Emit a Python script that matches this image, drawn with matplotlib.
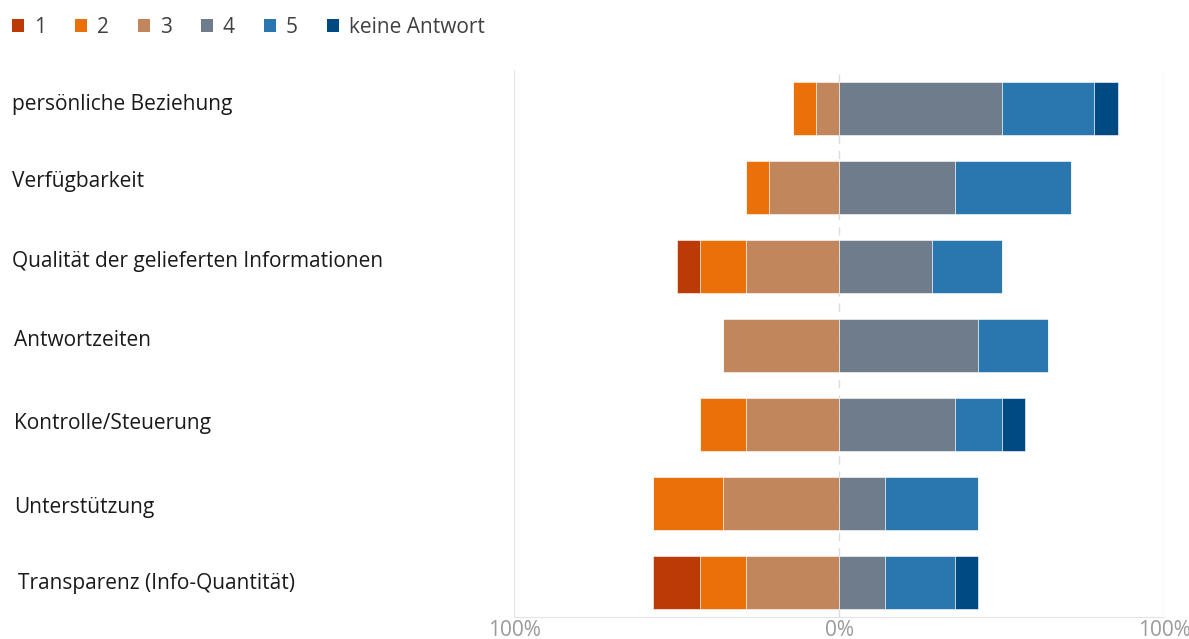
import numpy as np
import matplotlib.pyplot as plt
from matplotlib.patches import Patch
from matplotlib.ticker import FuncFormatter
from matplotlib.transforms import blended_transform_factory

plt.rcParams['font.family'] = ['Open Sans', 'DejaVu Sans']

# data (percent of answers)
categories = ['persönliche Beziehung', 'Verfügbarkeit',
              'Qualität der gelieferten Informationen', 'Antwortzeiten',
              'Kontrolle/Steuerung', 'Unterstützung',
              'Transparenz (Info-Quantität)']
p1 = [0, 0, 7.1, 0, 0, 0, 14.3]
p2 = [7.1, 7.1, 14.3, 0, 14.3, 21.4, 14.3]
p3 = [7.1, 21.4, 28.6, 35.7, 28.6, 35.7, 28.6]
p4 = [50.0, 35.7, 28.6, 42.9, 35.7, 14.3, 14.3]
p5 = [28.6, 35.7, 21.4, 21.4, 14.3, 28.6, 21.4]
ka = [7.1, 0, 0, 0, 7.1, 0, 7.1]
legend_labels = ['1', '2', '3', '4', '5', 'keine Antwort']
colors = ['#BB3A05', '#EC7009', '#C1865C', '#6E7C8C', '#2A77AF', '#004A84']

fig = plt.figure(figsize=(11.89, 6.39), dpi=100)
ax = fig.add_axes([0.4323, 0.0344, 0.5467, 0.8561])

y = np.arange(len(categories))
h = 0.67
kw = dict(height=h, edgecolor='white', linewidth=0.4)

# negative side: 3 next to zero, then 2, then 1
left3 = -np.array(p3)
left2 = left3 - np.array(p2)
left1 = left2 - np.array(p1)
ax.barh(y, p3, left=left3, color=colors[2], **kw)
ax.barh(y, p2, left=left2, color=colors[1], **kw)
ax.barh(y, p1, left=left1, color=colors[0], **kw)

# positive side: 4, 5, keine Antwort
l5 = np.array(p4)
lka = l5 + np.array(p5)
ax.barh(y, p4, left=0, color=colors[3], **kw)
ax.barh(y, p5, left=l5, color=colors[4], **kw)
ax.barh(y, ka, left=lka, color=colors[5], **kw)

ax.set_xlim(-100, 100)
ax.set_ylim(6.44, -0.49)
ax.set_xticks([-100, 0, 100])
ax.xaxis.set_major_formatter(FuncFormatter(lambda v, p: f'{abs(v):.0f}%'))
ax.tick_params(axis='x', length=0, labelsize=15, labelcolor='#9a9a9a', pad=2)
ax.set_yticks([])
for s in ['top', 'left', 'right']:
    ax.spines[s].set_visible(False)
ax.spines['bottom'].set_color('#e3e3e3')

ax.axvline(-100, color='#e6e6e6', lw=1, zorder=0)
ax.axvline(100, color='#e6e6e6', lw=1, zorder=0)
ax.axvline(0, color='#dddddd', lw=1, ls=(0, (6, 5)), zorder=0)

# category labels on the left (slightly uneven, as in the original)
label_dx = [12, 12, 12, 14, 14, 14, 18]
label_dy = [-0.05, -0.08, -0.06, -0.06, -0.01, 0.05, 0.01]
trans = blended_transform_factory(fig.transFigure, ax.transData)
for i, c in enumerate(categories):
    ax.text(label_dx[i] / 1189, i + label_dy[i], c, transform=trans,
            ha='left', va='center', fontsize=15, color='#1a1a1a')

handles = [Patch(facecolor=c, edgecolor='none') for c in colors]
fig.legend(handles, legend_labels, loc='upper left', bbox_to_anchor=(0.003, 0.987),
           ncol=6, frameon=False, fontsize=15, handlelength=0.6, handleheight=0.6,
           handletextpad=0.45, columnspacing=1.4, borderaxespad=0,
           labelcolor='#404040')

fig.savefig('out.png', dpi=100)
